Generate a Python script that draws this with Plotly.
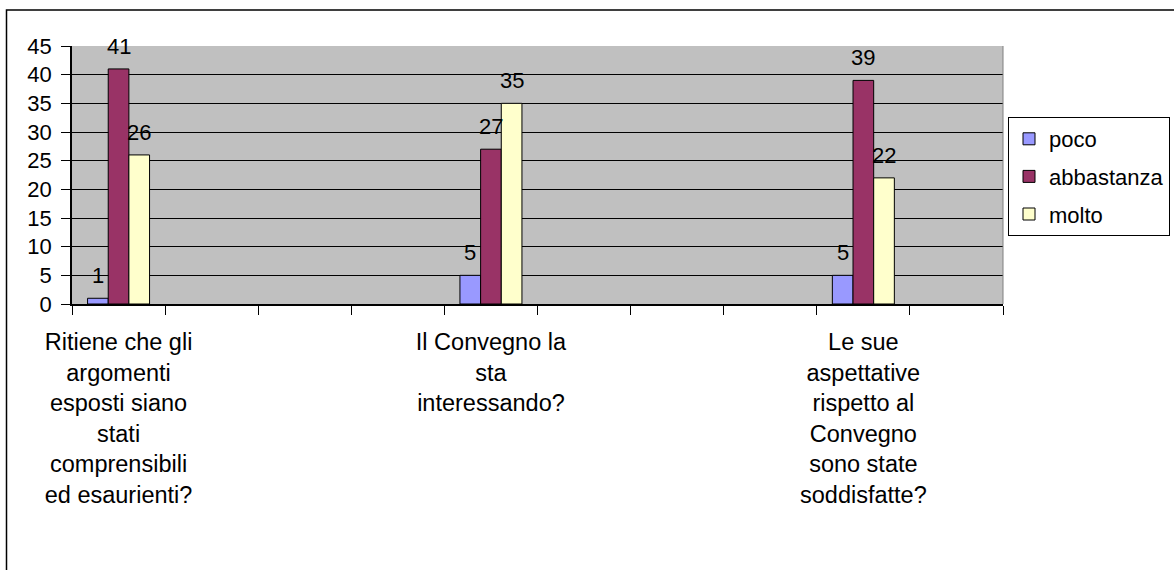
import plotly.graph_objects as go

# ---- data -------------------------------------------------------------
questions = [
    "Ritiene che gli<br>argomenti<br>esposti siano<br>stati<br>comprensibili<br>ed esaurienti?",
    "Il Convegno la<br>sta<br>interessando?",
    "Le sue<br>aspettative<br>rispetto al<br>Convegno<br>sono state<br>soddisfatte?",
]
# the original category axis has 10 slots; the questions sit in slots 0, 4 and 8
n_slots = 10
question_slots = [0, 4, 8]

series_names = ["poco", "abbastanza", "molto"]
poco = [1, 5, 5]
abbastanza = [41, 27, 39]
molto = [26, 35, 22]

y_tick_values = [0, 5, 10, 15, 20, 25, 30, 35, 40, 45]

# ---- styling ----------------------------------------------------------
colors = ["#9999FF", "#993366", "#FFFFCC"]
FONT = "Liberation Sans, Arial, sans-serif"
W, H = 1174, 570
ML, MR, MT, MB = 72, 171, 46, 266
plot_w = W - ML - MR
plot_h = H - MT - MB

bar_w = 0.222  # in category units
offsets = [-1.5 * bar_w, -0.5 * bar_w, 0.5 * bar_w]
bar_px = plot_w / n_slots * bar_w

slots = [" " * (k + 1) for k in range(n_slots)]
for q, s in zip(questions, question_slots):
    slots[s] = q

fig = go.Figure()
series_values = [poco, abbastanza, molto]
for i, (name, vals) in enumerate(zip(series_names, series_values)):
    fig.add_trace(go.Bar(
        x=questions, y=vals, name=name,
        width=bar_w, offset=offsets[i],
        marker=dict(color=colors[i], line=dict(color="black", width=1)),
        legendgroup=name,
    ))

annotations = []
for i, vals in enumerate(series_values):
    for q, v in zip(questions, vals):
        annotations.append(dict(
            x=q, y=v, xref="x", yref="y", text=str(v), showarrow=False,
            xanchor="center", yanchor="bottom",
            xshift=(i - 1) * bar_px, yshift=8,
            font=dict(family=FONT, size=22, color="black"),
        ))

shapes = [
    # right edge of plot area (grey)
    dict(type="line", xref="paper", yref="paper", x0=1, x1=1, y0=0, y1=1,
         line=dict(color="#808080", width=1), layer="above"),
    # outer chart border
    dict(type="rect", xref="paper", yref="paper",
         x0=(6.5 - ML) / plot_w, x1=(W + 10 - ML) / plot_w,
         y0=(H - MB - (H + 10)) / plot_h, y1=(H - MB - 10) / plot_h,
         line=dict(color="black", width=1.5), fillcolor="rgba(0,0,0,0)", layer="above"),
]

fig.update_layout(
    width=W, height=H,
    margin=dict(l=ML, r=MR, t=MT, b=MB, autoexpand=False),
    paper_bgcolor="white", plot_bgcolor="#C0C0C0",
    barmode="overlay",
    font=dict(family=FONT, size=22, color="black"),
    showlegend=True,
    legend=dict(
        x=(1008 - ML) / plot_w, y=(H - MB - 117) / plot_h,
        xanchor="left", yanchor="top",
        bgcolor="white", bordercolor="black", borderwidth=1,
        font=dict(family=FONT, size=22, color="black"),
        tracegroupgap=6, traceorder="grouped",
    ),
    annotations=annotations,
    shapes=shapes,
    xaxis=dict(
        type="category", categoryorder="array", categoryarray=slots,
        range=[-0.5, n_slots - 0.5],
        tickson="boundaries", ticks="outside", ticklen=9, tickcolor="black", tickwidth=1,
        showline=True, linecolor="black", linewidth=1.5,
        showgrid=False, automargin=False, tickangle=0,
        tickfont=dict(family=FONT, size=23.5, color="black"),
        ticklabelstandoff=16,
    ),
    yaxis=dict(
        range=[0, 45], tickvals=y_tick_values,
        ticks="outside", ticklen=9, tickcolor="black", tickwidth=1,
        showline=True, linecolor="black", linewidth=1.5,
        showgrid=True, gridcolor="black", gridwidth=1, zeroline=False,
        automargin=False,
        tickfont=dict(family=FONT, size=22, color="black"),
        ticklabelstandoff=5,
    ),
)

fig.write_html("out.html", config={"displayModeBar": False},
               post_script="document.body.style.margin='0';")
